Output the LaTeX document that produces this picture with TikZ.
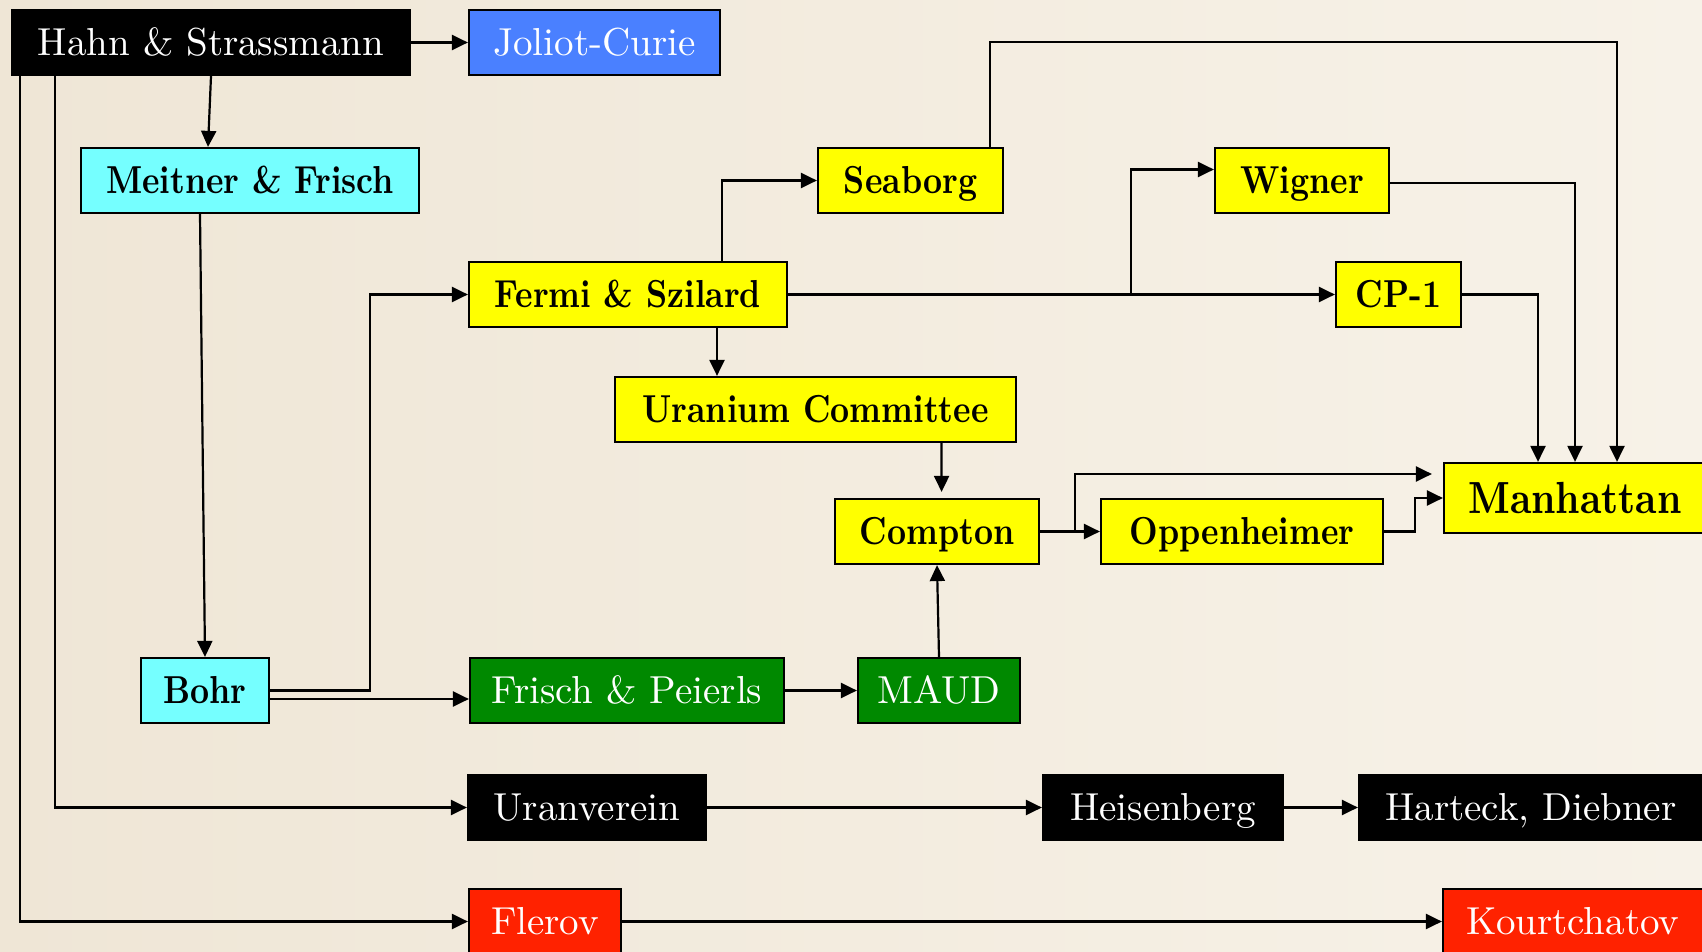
\documentclass[tikz,border=0pt]{standalone}
\usepackage{fontspec}
\setmainfont{lmroman10}[Extension=.otf, UprightFont=*-regular, BoldFont=*-bold, ItalicFont=*-italic, BoldItalicFont=*-bolditalic, BoldFeatures={FakeStretch=0.85}]
\usetikzlibrary{arrows.meta}
\definecolor{paperL}{RGB}{239,230,214}
\definecolor{paperR}{RGB}{247,242,232}
\definecolor{jblue}{RGB}{74,128,255}
\definecolor{mcyan}{RGB}{117,255,255}
\definecolor{myellow}{RGB}{255,255,0}
\definecolor{mgreen}{RGB}{0,137,0}
\definecolor{mred}{RGB}{255,34,0}
\tikzset{
  base/.style={draw=black, line width=2.2pt, rectangle, inner sep=0pt, minimum height=65pt,
    text height=26.5pt, text depth=0pt, font=\fontsize{39}{40}\selectfont},
  dk/.style={base, fill=black, text=white},
  blu/.style={base, fill=jblue, text=white},
  cy/.style={base, fill=mcyan, text=black, font=\fontsize{39}{40}\selectfont\bfseries},
  yl/.style={base, fill=myellow, text=black, font=\fontsize{39}{40}\selectfont\bfseries},
  gr/.style={base, fill=mgreen, text=white},
  rd/.style={base, fill=mred, text=white},
  arr/.style={-{Triangle[length=16pt,width=15pt]}, line width=2.2pt, draw=black},
}
\begin{document}
\begin{tikzpicture}[x=1pt, y=-1pt]
\useasboundingbox (0,0) rectangle (1702,952);
\clip (0,0) rectangle (1702,952);
\shade[left color=paperL, right color=paperR] (0,0) rectangle (1702,952);

\node[dk, minimum width=398pt] (hahn) at (211,42.5) {Hahn \& Strassmann};
\node[blu, minimum width=251pt] (joliot) at (594.5,42.5) {Joliot-Curie};
\node[cy, minimum width=338pt] (meitner) at (250,180.5) {Meitner \& Frisch};
\node[yl, minimum width=185pt] (seaborg) at (910.5,180.5) {Seaborg};
\node[yl, minimum width=174pt] (wigner) at (1302,180.5) {Wigner};
\node[yl, minimum width=318pt] (fermi) at (628,294.5) {Fermi \& Szilard};
\node[yl, minimum width=125pt] (cp1) at (1398.5,294.5) {CP-1};
\node[yl, minimum width=401pt] (uc) at (815.5,409.5) {Uranium Committee};
\node[yl, minimum width=262pt, minimum height=70pt, text height=31pt, font=\fontsize{45}{46}\selectfont\bfseries] (manh) at (1575,498) {Manhattan};
\node[yl, minimum width=204pt] (compton) at (937,531.5) {Compton};
\node[yl, minimum width=282pt] (opp) at (1242,531.5) {Oppenheimer};
\node[cy, minimum width=128pt] (bohr) at (205,690.5) {Bohr};
\node[gr, minimum width=314pt] (fp) at (627,690.5) {Frisch \& Peierls};
\node[gr, minimum width=162pt] (maud) at (939,690.5) {MAUD};
\node[dk, minimum width=238pt] (uran) at (587,807.5) {Uranverein};
\node[dk, minimum width=240pt] (heis) at (1163,807.5) {Heisenberg};
\node[dk, minimum width=344pt] (hart) at (1531,807.5) {Harteck, Diebner};
\node[rd, minimum width=152pt] (flerov) at (545,921.5) {Flerov};
\node[rd, minimum width=260pt] (kourt) at (1573,921.5) {Kourtchatov};

\draw[arr] (hahn.east) -- (joliot.west);
\draw[arr] (hahn.south) -- ([xshift=-42pt]meitner.north);
\draw[arr] ([xshift=-50pt]meitner.south) -- (bohr.north);
\draw[arr] ([xshift=44pt]hahn.south west) |- (uran.west);
\draw[arr] ([xshift=9pt]hahn.south west) |- (flerov.west);
\draw[arr] (bohr.east) -- ++(100,0) |- (fermi.west);
\draw[arr] ([yshift=-8.5pt]bohr.east) -- ([yshift=-8.5pt]fp.west);
\draw[arr] ([xshift=94pt]fermi.north) |- (seaborg.west);
\draw[arr] ([xshift=89pt]fermi.south) -- ([xshift=-98.5pt]uc.north);
\draw[arr] (fermi.east) -- (cp1.west);
\draw[arr] (fermi.east) -- ++(343,0) |- ([yshift=11pt]wigner.west);
\draw[arr] ([xshift=79.5pt]seaborg.north) -- ++(0,-105) -| ([xshift=42pt]manh.north);
\draw[arr] ([yshift=-2.5pt]wigner.east) -| (manh.north);
\draw[arr] (cp1.east) -| ([xshift=-37pt]manh.north);
\draw[arr] ([xshift=126pt]uc.south) -- ([xshift=4.6pt,yshift=6pt]compton.north);
\draw[arr] (maud.north) -- (compton.south);
\draw[arr] (fp.east) -- (maud.west);
\draw[arr] (compton.east) -- (opp.west);
\draw[arr, shorten >=11pt] (compton.east) -- ++(35,0) |- ([yshift=24pt]manh.west);
\draw[arr] (opp.east) -- ++(31,0) |- (manh.west);
\draw[arr] (uran.east) -- (heis.west);
\draw[arr] (heis.east) -- (hart.west);
\draw[arr] (flerov.east) -- (kourt.west);
\end{tikzpicture}
\end{document}
